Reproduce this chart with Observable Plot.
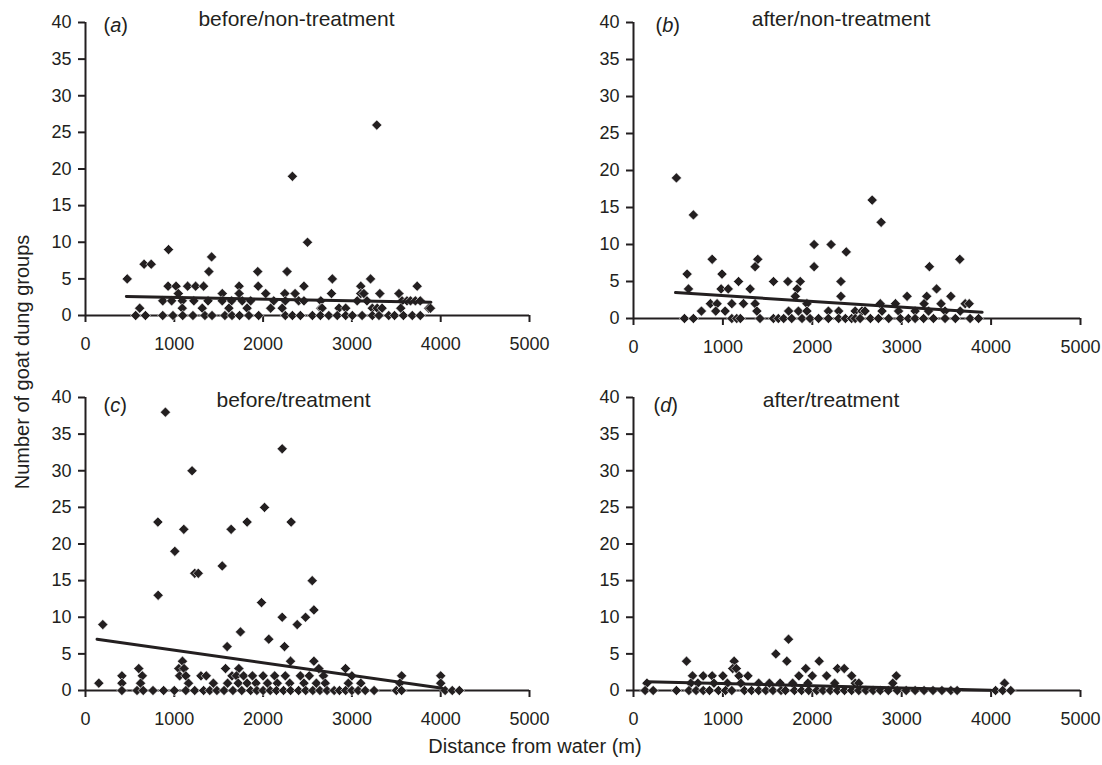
<!DOCTYPE html>
<html><head><meta charset="utf-8">
<script src="https://cdn.jsdelivr.net/npm/d3@7"></script>
<script src="https://cdn.jsdelivr.net/npm/@observablehq/plot@0.6"></script>
<style>
body{margin:0;background:#fff;}
#wrap{position:relative;width:1102px;height:765px;font-family:"Liberation Sans",Arial,sans-serif;color:#231f20;overflow:hidden;}
.panel{position:absolute;}
.ylab{position:absolute;left:22px;top:362px;transform:translate(-50%,-50%) rotate(-90deg);font-size:20px;white-space:nowrap;}
.xlab{position:absolute;left:535px;top:746px;transform:translate(-50%,-50%);font-size:20px;white-space:nowrap;}
</style></head><body><div id="wrap"></div>
<script>
// ---- tick labels ----
const xTicks = [0, 1000, 2000, 3000, 4000, 5000];
const yTicks = [0, 5, 10, 15, 20, 25, 30, 35, 40];

// ---- panel titles / labels ----
const titles = ["before/non-treatment", "after/non-treatment", "before/treatment", "after/treatment"];
const letters = ["a", "b", "c", "d"];

// ---- data: [count, [distances from water (m)]] ----
const panelA = [
  [26, [3280]], [19, [2330]], [10, [2500]], [9, [935]], [8, [1420]], [7, [660, 740]],
  [6, [1390, 1940, 2270]], [5, [470, 2780, 3210]],
  [4, [930, 1020, 1150, 1240, 1330, 1730, 1945, 2460, 3100, 3735]],
  [3, [1045, 1540, 1730, 2030, 2245, 2360, 2770, 3100, 3135, 3315, 3530]],
  [2, [870, 970, 1090, 1220, 1380, 1540, 1645, 1765, 1860, 2120, 2250, 2400, 2460, 2650, 3060, 3170, 3565, 3620, 3660, 3715, 3770]],
  [1, [610, 1090, 1315, 1615, 1820, 2085, 2215, 2650, 2665, 2855, 2930, 3230, 3285, 3340, 3550, 3865, 3885]],
  [0, [565, 675, 870, 985, 1095, 1210, 1345, 1425, 1570, 1650, 1735, 1840, 1950, 2250, 2330, 2420, 2555, 2645, 2740, 2835, 2930, 3005, 3115, 3230, 3305, 3415, 3480, 3580, 3680, 3770]]
];
const panelB = [
  [19, [480]], [16, [2670]], [14, [670]], [13, [2770]], [10, [2020, 2210]], [9, [2380]],
  [8, [880, 1390, 3650]], [7, [1360, 2020, 3310]], [6, [600, 990]],
  [5, [1175, 1566, 1727, 1865, 2320]], [4, [615, 980, 1060, 1305, 1830, 3390]],
  [3, [1810, 2320, 3060, 3280, 3550]],
  [2, [860, 935, 1100, 1230, 1360, 1940, 2760, 2930, 3250, 3440, 3710, 3755]],
  [1, [760, 920, 1025, 1380, 1735, 1845, 1940, 2180, 2295, 2480, 2555, 2590, 2780, 2965, 3150, 3300, 3485, 3655]],
  [0, [570, 670, 1100, 1155, 1195, 1415, 1565, 1620, 1680, 1770, 1885, 1975, 2070, 2180, 2295, 2370, 2440, 2480, 2535, 2650, 2740, 2855, 2985, 3075, 3150, 3245, 3355, 3485, 3600, 3765, 3860]]
];
const panelC = [
  [38, [900]], [33, [2215]], [30, [1200]], [25, [2016]], [23, [815, 1820, 2316]], [22, [1107, 1640]],
  [19, [1006]], [17, [1540]], [16, [1230, 1270]], [15, [2553]], [13, [818]], [12, [1982]],
  [11, [2572]], [10, [2215, 2478]], [9, [195, 2384]], [8, [1745]], [7, [2064]], [6, [1595, 2241]],
  [4, [1092, 2309, 2572]], [3, [600, 1051, 1110, 1577, 1727, 2628, 2928]],
  [2, [410, 640, 1060, 1130, 1300, 1360, 1650, 1700, 1780, 1880, 2000, 2130, 2250, 2420, 2520, 2680, 3000, 3560, 4000]],
  [1, [150, 410, 620, 1160, 1440, 1600, 1720, 1820, 1920, 2050, 2160, 2300, 2460, 2600, 2700, 2960, 3100, 3540, 4000]],
  [0, [410, 580, 650, 760, 880, 1000, 1130, 1230, 1330, 1400, 1480, 1560, 1660, 1760, 1860, 1930, 2000, 2080, 2150, 2230, 2310, 2400, 2480, 2560, 2640, 2720, 2800, 2860, 2930, 3000, 3070, 3150, 3250, 3500, 3560, 4050, 4130, 4210]]
];
const panelD = [
  [7, [1734]], [5, [1592]], [4, [593, 1126, 1715, 2077]], [3, [1110, 1150, 1927, 2282, 2357]],
  [2, [660, 780, 880, 1000, 1180, 1280, 1850, 2000, 2160, 2440, 2940]],
  [1, [150, 640, 720, 900, 1050, 1200, 1400, 1520, 1640, 1780, 1950, 2250, 2480, 2520, 2900, 4150]],
  [0, [130, 220, 480, 620, 700, 780, 850, 950, 1030, 1100, 1240, 1320, 1400, 1480, 1560, 1650, 1700, 1800, 1880, 1960, 2050, 2120, 2200, 2280, 2360, 2440, 2520, 2600, 2680, 2760, 2850, 2950, 3050, 3150, 3250, 3350, 3450, 3550, 3620, 4050, 4130, 4220]]
];

// ---- fitted regression lines: endpoints [distance, count] ----
const fitA = [[460, 2.6], [3890, 1.8]];
const fitB = [[470, 3.5], [3900, 0.85]];
const fitC = [[130, 7.0], [4020, 0.3]];
const fitD = [[150, 1.2], [4000, 0.05]];

const ink = "#231f20";
const font = "'Liberation Sans', Arial, sans-serif";

function toPoints(rows) {
  return rows.flatMap(([c, xs]) => xs.map(x => ({x, y: c})));
}

function makePanel(cfg) {
  const mL = 50, mR = 20, mT = 10, mB = 34;
  const pts = toPoints(cfg.rows);
  const line = cfg.fit.map(([x, y]) => ({x, y}));
  const svg = Plot.plot({
    width: mL + cfg.w + mR,
    height: mT + cfg.h + mB,
    marginLeft: mL, marginRight: mR, marginTop: mT, marginBottom: mB,
    style: {fontFamily: font, fontSize: "18px", color: ink, background: "transparent", overflow: "visible"},
    x: {domain: [0, 5000]},
    y: {domain: [0, 40]},
    marks: [
      Plot.axisX({ticks: xTicks, tickSize: 7, tickPadding: 15, strokeWidth: 2, label: null, tickFormat: d => String(d), fontSize: 18}),
      Plot.axisY({ticks: yTicks, tickSize: 7, tickPadding: 7, strokeWidth: 2, label: null, tickFormat: d => String(d), fontSize: 18}),
      Plot.ruleX([0], {stroke: ink, strokeWidth: 2}),
      Plot.ruleY([0], {stroke: ink, strokeWidth: 2}),
      Plot.dot(pts, {x: "x", y: "y", symbol: "diamond2", r: 4.6, fill: ink, stroke: "white", strokeWidth: 0.6}),
      Plot.line(line, {x: "x", y: "y", stroke: ink, strokeWidth: 3}),
      Plot.text([cfg.title], {frameAnchor: "top", lineAnchor: "middle", dx: cfg.tdx, dy: cfg.tdy, fontSize: 21, fill: ink}),
      Plot.text([cfg.letter], {frameAnchor: "top-left", textAnchor: "start", lineAnchor: "middle", dx: cfg.ldx, dy: cfg.ldy, fontSize: 20, fill: ink, className: "plabel"})
    ]
  });
  d3.select(svg).selectAll(".plabel text").each(function() {
    const t = this.textContent;
    this.textContent = "";
    const s = d3.select(this);
    s.append("tspan").text("(");
    s.append("tspan").attr("font-style", "italic").text(t);
    s.append("tspan").text(")");
  });
  svg.classList.add("panel");
  svg.style.left = cfg.left + "px";
  svg.style.top = cfg.top + "px";
  svg.style.position = "absolute";
  return svg;
}

const wrap = document.getElementById("wrap");
const cfgs = [
  {rows: panelA, fit: fitA, title: titles[0], letter: letters[0], left: 35, top: 12, w: 444, h: 293, tdx: -11, tdy: -3.5, ldx: 18, ldy: 3.5},
  {rows: panelB, fit: fitB, title: titles[1], letter: letters[1], left: 583, top: 12, w: 447, h: 296, tdx: -16, tdy: -3.5, ldx: 22, ldy: 3.5},
  {rows: panelC, fit: fitC, title: titles[2], letter: letters[2], left: 35, top: 387, w: 444, h: 293, tdx: -14, tdy: 3, ldx: 18, ldy: 8},
  {rows: panelD, fit: fitD, title: titles[3], letter: letters[3], left: 583, top: 387, w: 447, h: 293, tdx: -26, tdy: 3, ldx: 20, ldy: 8}
];
for (const c of cfgs) wrap.appendChild(makePanel(c));

const yl = document.createElement("div");
yl.className = "ylab";
yl.textContent = "Number of goat dung groups";
wrap.appendChild(yl);
const xl = document.createElement("div");
xl.className = "xlab";
xl.textContent = "Distance from water (m)";
wrap.appendChild(xl);
</script>
</body></html>
